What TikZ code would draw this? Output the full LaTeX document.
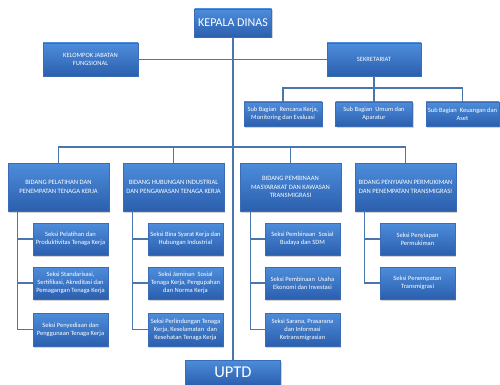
\documentclass[tikz,border=0pt]{standalone}
\usepackage{fontspec}
\setmainfont{Carlito}
\usetikzlibrary{shadows}
\definecolor{boxtop}{HTML}{4D8DDB}
\definecolor{boxbot}{HTML}{2B5FAE}
\definecolor{boxedge}{HTML}{3A6DB5}
\definecolor{wire}{HTML}{4A76AE}
\tikzset{
  orgbox/.style={draw=boxedge, line width=0.5pt, top color=boxtop, bottom color=boxbot,
    text=white, align=center, inner sep=0pt,
    drop shadow={shadow xshift=1.2pt, shadow yshift=-1.5pt, opacity=0.35}},
  small/.style={orgbox, font=\fontsize{6.5}{7.8}\selectfont},
  bidang/.style={orgbox, font=\fontsize{6.6}{8.6}\selectfont},
  seksi/.style={small, minimum width=75pt},
  wireline/.style={draw=wire, line width=1.1pt}
}
\begin{document}
\begin{tikzpicture}[x=1pt, y=-1pt]
\useasboundingbox (0,0) rectangle (500,385);

% top level
\node[orgbox, font=\fontsize{12}{14}\selectfont, minimum width=77pt, minimum height=28pt] (kepala) at (233,23) {KEPALA DINAS};
\node[orgbox, font=\fontsize{16.5}{18}\selectfont, minimum width=95pt, minimum height=25pt] (uptd) at (233,372.5) {UPTD};
\node[small, minimum width=95pt, minimum height=33pt] (kelompok) at (90.5,59.5) {KELOMPOK JABATAN\\FUNGSIONAL};
\node[small, minimum width=94pt, minimum height=33pt] (sekr) at (374,59.5) {SEKRETARIAT};

% sub bagian
\node[small, minimum width=78pt, minimum height=24pt] (sub1) at (283,114) {Sub Bagian\ \ Rencana Kerja,\\Monitoring dan Evaluasi};
\node[small, minimum width=77pt, minimum height=24pt] (sub2) at (374,114) {Sub Bagian\ \ Umum dan\\Aparatur};
\node[small, minimum width=73pt, minimum height=24pt] (sub3) at (462.5,114) {Sub Bagian\ \ Keuangan dan\\Aset};

% bidang
\node[bidang, minimum width=101pt, minimum height=48pt] (b1) at (58.5,187) {BIDANG PELATIHAN DAN\\PENEMPATAN TENAGA KERJA};
\node[bidang, minimum width=101pt, minimum height=48pt] (b2) at (173.5,187) {BIDANG HUBUNGAN INDUSTRIAL\\DAN PENGAWASAN TENAGA KERJA};
\node[bidang, minimum width=101pt, minimum height=48pt] (b3) at (290.5,187) {BIDANG PEMBINAAN\\MASYARAKAT DAN KAWASAN\\TRANSMIGRASI};
\node[bidang, minimum width=101pt, minimum height=48pt] (b4) at (405.5,187) {BIDANG PENYIAPAN PERMUKIMAN\\DAN PENEMPATAN TRANSMIGRASI};

% seksi, column 1
\node[seksi, minimum height=32pt] (s11) at (70.5,239) {Seksi Pelatihan dan\\Produktivitas Tenaga Kerja};
\node[seksi, minimum height=32pt] (s12) at (70.5,283) {Seksi Standarisasi,\\Sertifikasi, Akreditasi dan\\Pemagangan Tenaga Kerja};
\node[seksi, minimum height=33pt] (s13) at (70.5,329.5) {Seksi Penyediaan dan\\Penggunaan Tenaga Kerja};
% column 2
\node[seksi, minimum height=32pt] (s21) at (185.5,239) {Seksi Bina Syarat Kerja dan\\Hubungan Industrial};
\node[seksi, minimum height=32pt] (s22) at (185.5,283) {Seksi Jaminan\ \ Sosial\\Tenaga Kerja, Pengupahan\\dan Norma Kerja};
\node[seksi, minimum height=33pt] (s23) at (185.5,329.5) {Seksi Perlindungan Tenaga\\Kerja, Keselamatan\ \ dan\\Kesehatan Tenaga Kerja};
% column 3
\node[seksi, minimum height=32pt] (s31) at (302.5,239) {Seksi Pembinaan\ \ Sosial\\Budaya dan SDM};
\node[seksi, minimum height=32pt] (s32) at (302.5,283) {Seksi Pembinaan\ \ Usaha\\Ekonomi dan Investasi};
\node[seksi, minimum height=33pt] (s33) at (302.5,329.5) {Seksi Sarana, Prasarana\\dan Informasi\\Ketransmigrasian};
% column 4
\node[seksi, minimum height=32pt] (s41) at (417.5,239) {Seksi Penyiapan\\Permukiman};
\node[seksi, minimum height=32pt] (s42) at (417.5,283) {Seksi Penempatan\\Transmigrasi};

% connectors
\coordinate (sbus) at (374,88);
\coordinate (bbus) at (233,147);
\path[wireline] (kepala.south) -- (uptd.north);
\path[wireline] (kelompok.east) -- (sekr.west);
\path[wireline] (sekr.south) -- (sub2.north);
\path[wireline] (sub1.north) |- (sbus) -| (sub3.north);
\path[wireline] (b1.north) |- (bbus) -| (b4.north);
\path[wireline] (b2.north) |- (bbus);
\path[wireline] (b3.north) |- (bbus);
\path[wireline] ([xshift=10pt]b1.south west) |- (s11.west);
\path[wireline] ([xshift=10pt]b1.south west) |- (s12.west);
\path[wireline] ([xshift=10pt]b1.south west) |- (s13.west);
\path[wireline] ([xshift=10pt]b2.south west) |- (s21.west);
\path[wireline] ([xshift=10pt]b2.south west) |- (s22.west);
\path[wireline] ([xshift=10pt]b2.south west) |- (s23.west);
\path[wireline] ([xshift=11pt]b3.south west) |- (s31.west);
\path[wireline] ([xshift=11pt]b3.south west) |- (s32.west);
\path[wireline] ([xshift=11pt]b3.south west) |- (s33.west);
\path[wireline] ([xshift=10pt]b4.south west) |- (s41.west);
\path[wireline] ([xshift=10pt]b4.south west) |- (s42.west);
\end{tikzpicture}
\end{document}
